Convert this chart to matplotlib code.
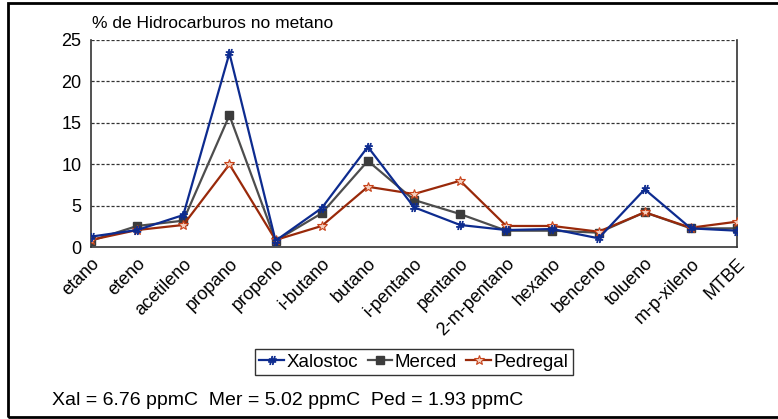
import matplotlib
matplotlib.use("Agg")
import matplotlib.pyplot as plt
from matplotlib.patches import Rectangle

plt.rcParams['font.family'] = ['Liberation Sans', 'DejaVu Sans']

categories = ["etano", "eteno", "acetileno", "propano", "propeno", "i-butano",
              "butano", "i-pentano", "pentano", "2-m-pentano", "hexano",
              "benceno", "tolueno", "m-p-xileno", "MTBE"]
xalostoc = [1.25, 2.05, 3.86, 23.4, 0.76, 4.7, 12.1, 4.8, 2.66, 2.05, 2.17,
            1.05, 6.97, 2.25, 1.97]
merced = [0.76, 2.54, 3.18, 15.9, 0.76, 4.07, 10.4, 5.68, 3.98, 1.97, 1.97,
          1.73, 4.19, 2.25, 2.25]
pedregal = [0.85, 2.05, 2.66, 9.98, 0.85, 2.54, 7.28, 6.4, 8.0, 2.54, 2.54,
            1.85, 4.19, 2.33, 3.06]
yticks = [0, 5, 10, 15, 20, 25]
title = "% de Hidrocarburos no metano"
note = "Xal = 6.76 ppmC  Mer = 5.02 ppmC  Ped = 1.93 ppmC"

fig = plt.figure(figsize=(7.78, 4.19), dpi=100)
ax = fig.add_axes([91/778, 1-247/419, (737-91)/778, (247-40)/419])

x = list(range(len(categories)))
ax.plot(x, xalostoc, color='#0d2b8f', lw=1.6, marker=r'$\#$', ms=6,
        mec='#0d2b8f', mfc='#0d2b8f', mew=0.6, label='Xalostoc', zorder=4)
ax.plot(x, merced, color='#4d4d4d', lw=1.6, marker='s', ms=6,
        mec='#3c3c3c', mfc='#3c3c3c', label='Merced', zorder=3)
ax.plot(x, pedregal, color='#99290a', lw=1.6, marker='*', ms=7,
        mec='#c8431a', mfc='#f4d0c0', mew=0.8, label='Pedregal', zorder=3)

ax.set_xlim(0, len(categories) - 1)
ax.set_ylim(0, 25)
ax.set_yticks(yticks)
ax.set_xticks(x)
ax.set_xticklabels(categories, rotation=45, ha='right', rotation_mode='anchor',
                   fontsize=13)
ax.tick_params(axis='y', labelsize=13, length=0, pad=7)
ax.tick_params(axis='x', length=0, pad=6)

for v in yticks[1:]:
    ax.axhline(v, color='#333333', lw=0.9, ls=(0, (2.5, 1.5)), zorder=1)

ax.spines['top'].set_visible(False)
for s in ['left', 'bottom', 'right']:
    ax.spines[s].set_color('#333333')
    ax.spines[s].set_linewidth(1.2)

fig.text(92/778, 1-24/419, title, fontsize=12.5, va='center', ha='left')

leg = ax.legend(loc='center', bbox_to_anchor=(414/778, 1-362/419),
                bbox_transform=fig.transFigure, ncol=3, fontsize=13.5,
                frameon=True, fancybox=False, edgecolor='black',
                handlelength=1.3, handletextpad=0.15, columnspacing=0.5,
                borderpad=0.25)
leg.get_frame().set_linewidth(1.0)

fig.text(52/778, 1-400/419, note, fontsize=14, va='center', ha='left')

fig.patches.append(Rectangle((8/778, 1-417/419), 1.1, (417-3)/419,
                             transform=fig.transFigure, fill=False,
                             edgecolor='black', lw=2, clip_on=False))

fig.savefig("out.png", dpi=100)
